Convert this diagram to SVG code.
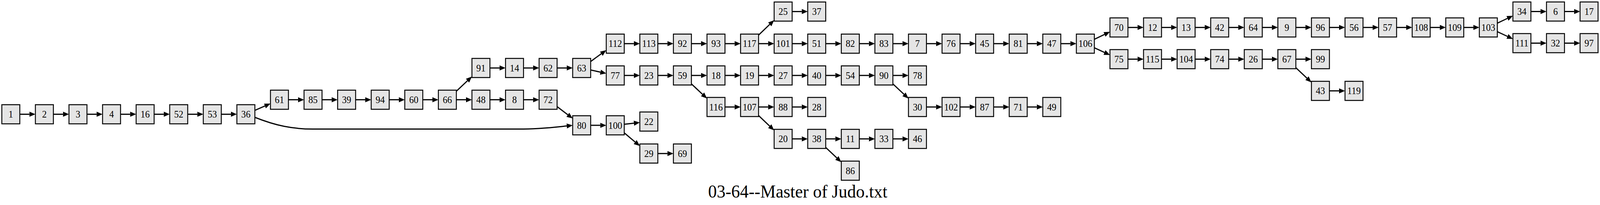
<svg xmlns="http://www.w3.org/2000/svg" width="4320" height="525" viewBox="0 0 4320 525">
<defs>
<style>
.n rect{fill:#e5e5e5;stroke:#000;stroke-width:2.5}
.n text{font-family:"Liberation Serif","Times New Roman",serif;font-size:25px;text-anchor:middle;fill:#000}
.e{stroke:#000;stroke-width:3;fill:none;marker-end:url(#a)}
.t{font-family:"Liberation Serif","Times New Roman",serif;font-size:47px;text-anchor:middle;fill:#000}
</style>
<marker id="a" markerUnits="userSpaceOnUse" markerWidth="17" markerHeight="14" refX="0" refY="6.5" orient="auto" overflow="visible"><path d="M0,0 L16,6.5 L0,13 z" fill="#000"/></marker>
</defs>
<rect width="4320" height="525" fill="#fff"/>
<g id="graph" transform="scale(0.9481,1)">
<g id="edges">
<path class="e" d="M53.5,292.6h26.07"/>
<path class="e" d="M144.17,292.6h26.07"/>
<path class="e" d="M234.84,292.6h26.07"/>
<path class="e" d="M325.51,292.6h26.07"/>
<path class="e" d="M416.18,292.6h26.07"/>
<path class="e" d="M506.85,292.6h26.07"/>
<path class="e" d="M597.52,292.6h26.07"/>
<path class="e" d="M688.19,282.63L715.46,271.44"/>
<path class="e" d="M688.2,300.5C745,322 790,330.5 845,330.5L1400,330.5C1460,330.5 1500,325.5 1530.4,322.6"/>
<path class="e" d="M778.86,255.4h26.07"/>
<path class="e" d="M869.53,255.4h26.07"/>
<path class="e" d="M960.2,255.4h26.07"/>
<path class="e" d="M1050.87,255.4h26.07"/>
<path class="e" d="M1141.54,255.4h26.07"/>
<path class="e" d="M1232.21,233.61L1262.37,206.57"/>
<path class="e" d="M1232.21,255.4h26.07"/>
<path class="e" d="M1322.88,255.4h26.07"/>
<path class="e" d="M1413.55,255.4h26.07"/>
<path class="e" d="M1322.88,174.1h26.07"/>
<path class="e" d="M1413.55,174.1h26.07"/>
<path class="e" d="M1504.22,174.1h26.07"/>
<path class="e" d="M1504.22,272.95L1533.32,293.98"/>
<path class="e" d="M1594.89,157.4L1623.77,137.56"/>
<path class="e" d="M1594.89,179.22L1621.3,184.78"/>
<path class="e" d="M1594.89,320.9h26.07"/>
<path class="e" d="M1685.56,318.33L1711.72,315.55"/>
<path class="e" d="M1685.56,340.28L1715.12,363.85"/>
<path class="e" d="M1776.23,393.2h26.07"/>
<path class="e" d="M1685.56,111.8h26.07"/>
<path class="e" d="M1776.23,111.8h26.07"/>
<path class="e" d="M1866.9,111.8h26.07"/>
<path class="e" d="M1957.57,111.8h26.07"/>
<path class="e" d="M2048.24,89.77L2078.46,62.38"/>
<path class="e" d="M2048.24,111.8h26.07"/>
<path class="e" d="M2138.91,29.6h26.07"/>
<path class="e" d="M2138.91,111.8h26.07"/>
<path class="e" d="M2229.58,111.8h26.07"/>
<path class="e" d="M2320.25,111.8h26.07"/>
<path class="e" d="M2410.92,111.8h26.07"/>
<path class="e" d="M2501.59,111.8h26.07"/>
<path class="e" d="M2592.26,111.8h26.07"/>
<path class="e" d="M2682.93,111.8h26.07"/>
<path class="e" d="M2773.6,111.8h26.07"/>
<path class="e" d="M2864.27,111.8h26.07"/>
<path class="e" d="M2954.94,100.68L2982.46,88.08"/>
<path class="e" d="M2954.94,122.44L2982.35,134.44"/>
<path class="e" d="M3045.61,70.3h26.07"/>
<path class="e" d="M3136.28,70.3h26.07"/>
<path class="e" d="M3226.95,70.3h26.07"/>
<path class="e" d="M3317.62,70.3h26.07"/>
<path class="e" d="M3408.29,70.3h26.07"/>
<path class="e" d="M3498.96,70.3h26.07"/>
<path class="e" d="M3589.63,70.3h26.07"/>
<path class="e" d="M3680.3,70.3h26.07"/>
<path class="e" d="M3770.97,70.3h26.07"/>
<path class="e" d="M3861.64,70.3h26.07"/>
<path class="e" d="M3952.31,70.3h26.07"/>
<path class="e" d="M4042.98,59.37L4070.46,47"/>
<path class="e" d="M4042.98,81.07L4070.42,93.25"/>
<path class="e" d="M4133.65,29.5h26.07"/>
<path class="e" d="M4224.32,29.5h26.07"/>
<path class="e" d="M4133.65,110.5h26.07"/>
<path class="e" d="M4224.32,110.5h26.07"/>
<path class="e" d="M3045.61,151.5h26.07"/>
<path class="e" d="M3136.28,151.5h26.07"/>
<path class="e" d="M3226.95,151.5h26.07"/>
<path class="e" d="M3317.62,151.5h26.07"/>
<path class="e" d="M3408.29,151.5h26.07"/>
<path class="e" d="M3498.96,151.5h26.07"/>
<path class="e" d="M3498.96,173.26L3529.11,200.26"/>
<path class="e" d="M3589.63,232.7h26.07"/>
<path class="e" d="M1685.56,193.2h26.07"/>
<path class="e" d="M1776.23,193.2h26.07"/>
<path class="e" d="M1866.9,193.2h26.07"/>
<path class="e" d="M1866.9,214.85L1897.02,241.71"/>
<path class="e" d="M1957.57,193.2h26.07"/>
<path class="e" d="M2048.24,193.2h26.07"/>
<path class="e" d="M2138.91,193.2h26.07"/>
<path class="e" d="M2229.58,193.2h26.07"/>
<path class="e" d="M2320.25,193.2h26.07"/>
<path class="e" d="M2410.92,193.2h26.07"/>
<path class="e" d="M2410.92,214.85L2441.04,241.71"/>
<path class="e" d="M2501.59,274h26.07"/>
<path class="e" d="M2592.26,274h26.07"/>
<path class="e" d="M2682.93,274h26.07"/>
<path class="e" d="M2773.6,274h26.07"/>
<path class="e" d="M1957.57,274h26.07"/>
<path class="e" d="M2048.24,274h26.07"/>
<path class="e" d="M2048.24,295.89L2078.42,323.1"/>
<path class="e" d="M2138.91,274h26.07"/>
<path class="e" d="M2138.91,355.7h26.07"/>
<path class="e" d="M2229.58,355.7h26.07"/>
<path class="e" d="M2229.58,377.51L2259.74,404.6"/>
<path class="e" d="M2320.25,355.7h26.07"/>
<path class="e" d="M2410.92,355.7h26.07"/>
</g>
<g id="n1" class="n" transform="translate(29.2,292.6)"><rect x="-24.3" y="-24.5" width="48.6" height="49"/><text y="8.6">1</text></g>
<g id="n2" class="n" transform="translate(119.87,292.6)"><rect x="-24.3" y="-24.5" width="48.6" height="49"/><text y="8.6">2</text></g>
<g id="n3" class="n" transform="translate(210.54,292.6)"><rect x="-24.3" y="-24.5" width="48.6" height="49"/><text y="8.6">3</text></g>
<g id="n4" class="n" transform="translate(301.21,292.6)"><rect x="-24.3" y="-24.5" width="48.6" height="49"/><text y="8.6">4</text></g>
<g id="n16" class="n" transform="translate(391.88,292.6)"><rect x="-24.3" y="-24.5" width="48.6" height="49"/><text y="8.6">16</text></g>
<g id="n52" class="n" transform="translate(482.55,292.6)"><rect x="-24.3" y="-24.5" width="48.6" height="49"/><text y="8.6">52</text></g>
<g id="n53" class="n" transform="translate(573.22,292.6)"><rect x="-24.3" y="-24.5" width="48.6" height="49"/><text y="8.6">53</text></g>
<g id="n36" class="n" transform="translate(663.89,292.6)"><rect x="-24.3" y="-24.5" width="48.6" height="49"/><text y="8.6">36</text></g>
<g id="n61" class="n" transform="translate(754.56,255.4)"><rect x="-24.3" y="-24.5" width="48.6" height="49"/><text y="8.6">61</text></g>
<g id="n85" class="n" transform="translate(845.23,255.4)"><rect x="-24.3" y="-24.5" width="48.6" height="49"/><text y="8.6">85</text></g>
<g id="n39" class="n" transform="translate(935.9,255.4)"><rect x="-24.3" y="-24.5" width="48.6" height="49"/><text y="8.6">39</text></g>
<g id="n94" class="n" transform="translate(1026.57,255.4)"><rect x="-24.3" y="-24.5" width="48.6" height="49"/><text y="8.6">94</text></g>
<g id="n60" class="n" transform="translate(1117.24,255.4)"><rect x="-24.3" y="-24.5" width="48.6" height="49"/><text y="8.6">60</text></g>
<g id="n66" class="n" transform="translate(1207.91,255.4)"><rect x="-24.3" y="-24.5" width="48.6" height="49"/><text y="8.6">66</text></g>
<g id="n91" class="n" transform="translate(1298.58,174.1)"><rect x="-24.3" y="-24.5" width="48.6" height="49"/><text y="8.6">91</text></g>
<g id="n14" class="n" transform="translate(1389.25,174.1)"><rect x="-24.3" y="-24.5" width="48.6" height="49"/><text y="8.6">14</text></g>
<g id="n62" class="n" transform="translate(1479.92,174.1)"><rect x="-24.3" y="-24.5" width="48.6" height="49"/><text y="8.6">62</text></g>
<g id="n63" class="n" transform="translate(1570.59,174.1)"><rect x="-24.3" y="-24.5" width="48.6" height="49"/><text y="8.6">63</text></g>
<g id="n48" class="n" transform="translate(1298.58,255.4)"><rect x="-24.3" y="-24.5" width="48.6" height="49"/><text y="8.6">48</text></g>
<g id="n8" class="n" transform="translate(1389.25,255.4)"><rect x="-24.3" y="-24.5" width="48.6" height="49"/><text y="8.6">8</text></g>
<g id="n72" class="n" transform="translate(1479.92,255.4)"><rect x="-24.3" y="-24.5" width="48.6" height="49"/><text y="8.6">72</text></g>
<g id="n80" class="n" transform="translate(1570.59,320.9)"><rect x="-24.3" y="-24.5" width="48.6" height="49"/><text y="8.6">80</text></g>
<g id="n100" class="n" transform="translate(1661.26,320.9)"><rect x="-24.3" y="-24.5" width="48.6" height="49"/><text y="8.6">100</text></g>
<g id="n22" class="n" transform="translate(1751.93,311.3)"><rect x="-24.3" y="-24.5" width="48.6" height="49"/><text y="8.6">22</text></g>
<g id="n29" class="n" transform="translate(1751.93,393.2)"><rect x="-24.3" y="-24.5" width="48.6" height="49"/><text y="8.6">29</text></g>
<g id="n69" class="n" transform="translate(1842.6,393.2)"><rect x="-24.3" y="-24.5" width="48.6" height="49"/><text y="8.6">69</text></g>
<g id="n112" class="n" transform="translate(1661.26,111.8)"><rect x="-24.3" y="-24.5" width="48.6" height="49"/><text y="8.6">112</text></g>
<g id="n113" class="n" transform="translate(1751.93,111.8)"><rect x="-24.3" y="-24.5" width="48.6" height="49"/><text y="8.6">113</text></g>
<g id="n92" class="n" transform="translate(1842.6,111.8)"><rect x="-24.3" y="-24.5" width="48.6" height="49"/><text y="8.6">92</text></g>
<g id="n93" class="n" transform="translate(1933.27,111.8)"><rect x="-24.3" y="-24.5" width="48.6" height="49"/><text y="8.6">93</text></g>
<g id="n117" class="n" transform="translate(2023.94,111.8)"><rect x="-24.3" y="-24.5" width="48.6" height="49"/><text y="8.6">117</text></g>
<g id="n25" class="n" transform="translate(2114.61,29.6)"><rect x="-24.3" y="-24.5" width="48.6" height="49"/><text y="8.6">25</text></g>
<g id="n37" class="n" transform="translate(2205.28,29.6)"><rect x="-24.3" y="-24.5" width="48.6" height="49"/><text y="8.6">37</text></g>
<g id="n101" class="n" transform="translate(2114.61,111.8)"><rect x="-24.3" y="-24.5" width="48.6" height="49"/><text y="8.6">101</text></g>
<g id="n51" class="n" transform="translate(2205.28,111.8)"><rect x="-24.3" y="-24.5" width="48.6" height="49"/><text y="8.6">51</text></g>
<g id="n82" class="n" transform="translate(2295.95,111.8)"><rect x="-24.3" y="-24.5" width="48.6" height="49"/><text y="8.6">82</text></g>
<g id="n83" class="n" transform="translate(2386.62,111.8)"><rect x="-24.3" y="-24.5" width="48.6" height="49"/><text y="8.6">83</text></g>
<g id="n7" class="n" transform="translate(2477.29,111.8)"><rect x="-24.3" y="-24.5" width="48.6" height="49"/><text y="8.6">7</text></g>
<g id="n76" class="n" transform="translate(2567.96,111.8)"><rect x="-24.3" y="-24.5" width="48.6" height="49"/><text y="8.6">76</text></g>
<g id="n45" class="n" transform="translate(2658.63,111.8)"><rect x="-24.3" y="-24.5" width="48.6" height="49"/><text y="8.6">45</text></g>
<g id="n81" class="n" transform="translate(2749.3,111.8)"><rect x="-24.3" y="-24.5" width="48.6" height="49"/><text y="8.6">81</text></g>
<g id="n47" class="n" transform="translate(2839.97,111.8)"><rect x="-24.3" y="-24.5" width="48.6" height="49"/><text y="8.6">47</text></g>
<g id="n106" class="n" transform="translate(2930.64,111.8)"><rect x="-24.3" y="-24.5" width="48.6" height="49"/><text y="8.6">106</text></g>
<g id="n70" class="n" transform="translate(3021.31,70.3)"><rect x="-24.3" y="-24.5" width="48.6" height="49"/><text y="8.6">70</text></g>
<g id="n12" class="n" transform="translate(3111.98,70.3)"><rect x="-24.3" y="-24.5" width="48.6" height="49"/><text y="8.6">12</text></g>
<g id="n13" class="n" transform="translate(3202.65,70.3)"><rect x="-24.3" y="-24.5" width="48.6" height="49"/><text y="8.6">13</text></g>
<g id="n42" class="n" transform="translate(3293.32,70.3)"><rect x="-24.3" y="-24.5" width="48.6" height="49"/><text y="8.6">42</text></g>
<g id="n64" class="n" transform="translate(3383.99,70.3)"><rect x="-24.3" y="-24.5" width="48.6" height="49"/><text y="8.6">64</text></g>
<g id="n9" class="n" transform="translate(3474.66,70.3)"><rect x="-24.3" y="-24.5" width="48.6" height="49"/><text y="8.6">9</text></g>
<g id="n96" class="n" transform="translate(3565.33,70.3)"><rect x="-24.3" y="-24.5" width="48.6" height="49"/><text y="8.6">96</text></g>
<g id="n56" class="n" transform="translate(3656,70.3)"><rect x="-24.3" y="-24.5" width="48.6" height="49"/><text y="8.6">56</text></g>
<g id="n57" class="n" transform="translate(3746.67,70.3)"><rect x="-24.3" y="-24.5" width="48.6" height="49"/><text y="8.6">57</text></g>
<g id="n108" class="n" transform="translate(3837.34,70.3)"><rect x="-24.3" y="-24.5" width="48.6" height="49"/><text y="8.6">108</text></g>
<g id="n109" class="n" transform="translate(3928.01,70.3)"><rect x="-24.3" y="-24.5" width="48.6" height="49"/><text y="8.6">109</text></g>
<g id="n103" class="n" transform="translate(4018.68,70.3)"><rect x="-24.3" y="-24.5" width="48.6" height="49"/><text y="8.6">103</text></g>
<g id="n34" class="n" transform="translate(4109.35,29.5)"><rect x="-24.3" y="-24.5" width="48.6" height="49"/><text y="8.6">34</text></g>
<g id="n6" class="n" transform="translate(4200.02,29.5)"><rect x="-24.3" y="-24.5" width="48.6" height="49"/><text y="8.6">6</text></g>
<g id="n17" class="n" transform="translate(4290.69,29.5)"><rect x="-24.3" y="-24.5" width="48.6" height="49"/><text y="8.6">17</text></g>
<g id="n111" class="n" transform="translate(4109.35,110.5)"><rect x="-24.3" y="-24.5" width="48.6" height="49"/><text y="8.6">111</text></g>
<g id="n32" class="n" transform="translate(4200.02,110.5)"><rect x="-24.3" y="-24.5" width="48.6" height="49"/><text y="8.6">32</text></g>
<g id="n97" class="n" transform="translate(4290.69,110.5)"><rect x="-24.3" y="-24.5" width="48.6" height="49"/><text y="8.6">97</text></g>
<g id="n75" class="n" transform="translate(3021.31,151.5)"><rect x="-24.3" y="-24.5" width="48.6" height="49"/><text y="8.6">75</text></g>
<g id="n115" class="n" transform="translate(3111.98,151.5)"><rect x="-24.3" y="-24.5" width="48.6" height="49"/><text y="8.6">115</text></g>
<g id="n104" class="n" transform="translate(3202.65,151.5)"><rect x="-24.3" y="-24.5" width="48.6" height="49"/><text y="8.6">104</text></g>
<g id="n74" class="n" transform="translate(3293.32,151.5)"><rect x="-24.3" y="-24.5" width="48.6" height="49"/><text y="8.6">74</text></g>
<g id="n26" class="n" transform="translate(3383.99,151.5)"><rect x="-24.3" y="-24.5" width="48.6" height="49"/><text y="8.6">26</text></g>
<g id="n67" class="n" transform="translate(3474.66,151.5)"><rect x="-24.3" y="-24.5" width="48.6" height="49"/><text y="8.6">67</text></g>
<g id="n99" class="n" transform="translate(3565.33,151.5)"><rect x="-24.3" y="-24.5" width="48.6" height="49"/><text y="8.6">99</text></g>
<g id="n43" class="n" transform="translate(3565.33,232.7)"><rect x="-24.3" y="-24.5" width="48.6" height="49"/><text y="8.6">43</text></g>
<g id="n119" class="n" transform="translate(3656,232.7)"><rect x="-24.3" y="-24.5" width="48.6" height="49"/><text y="8.6">119</text></g>
<g id="n77" class="n" transform="translate(1661.26,193.2)"><rect x="-24.3" y="-24.5" width="48.6" height="49"/><text y="8.6">77</text></g>
<g id="n23" class="n" transform="translate(1751.93,193.2)"><rect x="-24.3" y="-24.5" width="48.6" height="49"/><text y="8.6">23</text></g>
<g id="n59" class="n" transform="translate(1842.6,193.2)"><rect x="-24.3" y="-24.5" width="48.6" height="49"/><text y="8.6">59</text></g>
<g id="n18" class="n" transform="translate(1933.27,193.2)"><rect x="-24.3" y="-24.5" width="48.6" height="49"/><text y="8.6">18</text></g>
<g id="n19" class="n" transform="translate(2023.94,193.2)"><rect x="-24.3" y="-24.5" width="48.6" height="49"/><text y="8.6">19</text></g>
<g id="n27" class="n" transform="translate(2114.61,193.2)"><rect x="-24.3" y="-24.5" width="48.6" height="49"/><text y="8.6">27</text></g>
<g id="n40" class="n" transform="translate(2205.28,193.2)"><rect x="-24.3" y="-24.5" width="48.6" height="49"/><text y="8.6">40</text></g>
<g id="n54" class="n" transform="translate(2295.95,193.2)"><rect x="-24.3" y="-24.5" width="48.6" height="49"/><text y="8.6">54</text></g>
<g id="n90" class="n" transform="translate(2386.62,193.2)"><rect x="-24.3" y="-24.5" width="48.6" height="49"/><text y="8.6">90</text></g>
<g id="n78" class="n" transform="translate(2477.29,193.2)"><rect x="-24.3" y="-24.5" width="48.6" height="49"/><text y="8.6">78</text></g>
<g id="n30" class="n" transform="translate(2477.29,274)"><rect x="-24.3" y="-24.5" width="48.6" height="49"/><text y="8.6">30</text></g>
<g id="n102" class="n" transform="translate(2567.96,274)"><rect x="-24.3" y="-24.5" width="48.6" height="49"/><text y="8.6">102</text></g>
<g id="n87" class="n" transform="translate(2658.63,274)"><rect x="-24.3" y="-24.5" width="48.6" height="49"/><text y="8.6">87</text></g>
<g id="n71" class="n" transform="translate(2749.3,274)"><rect x="-24.3" y="-24.5" width="48.6" height="49"/><text y="8.6">71</text></g>
<g id="n49" class="n" transform="translate(2839.97,274)"><rect x="-24.3" y="-24.5" width="48.6" height="49"/><text y="8.6">49</text></g>
<g id="n116" class="n" transform="translate(1933.27,274)"><rect x="-24.3" y="-24.5" width="48.6" height="49"/><text y="8.6">116</text></g>
<g id="n107" class="n" transform="translate(2023.94,274)"><rect x="-24.3" y="-24.5" width="48.6" height="49"/><text y="8.6">107</text></g>
<g id="n88" class="n" transform="translate(2114.61,274)"><rect x="-24.3" y="-24.5" width="48.6" height="49"/><text y="8.6">88</text></g>
<g id="n28" class="n" transform="translate(2205.28,274)"><rect x="-24.3" y="-24.5" width="48.6" height="49"/><text y="8.6">28</text></g>
<g id="n20" class="n" transform="translate(2114.61,355.7)"><rect x="-24.3" y="-24.5" width="48.6" height="49"/><text y="8.6">20</text></g>
<g id="n38" class="n" transform="translate(2205.28,355.7)"><rect x="-24.3" y="-24.5" width="48.6" height="49"/><text y="8.6">38</text></g>
<g id="n11" class="n" transform="translate(2295.95,355.7)"><rect x="-24.3" y="-24.5" width="48.6" height="49"/><text y="8.6">11</text></g>
<g id="n33" class="n" transform="translate(2386.62,355.7)"><rect x="-24.3" y="-24.5" width="48.6" height="49"/><text y="8.6">33</text></g>
<g id="n46" class="n" transform="translate(2477.29,355.7)"><rect x="-24.3" y="-24.5" width="48.6" height="49"/><text y="8.6">46</text></g>
<g id="n86" class="n" transform="translate(2295.95,437.1)"><rect x="-24.3" y="-24.5" width="48.6" height="49"/><text y="8.6">86</text></g>
<text id="title" class="t" x="2154" y="506">03-64--Master of Judo.txt</text>
</g>
</svg>
